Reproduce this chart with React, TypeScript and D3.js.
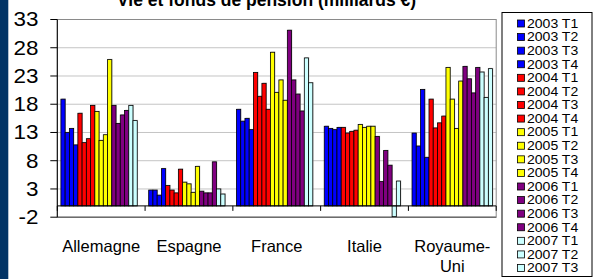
import * as d3 from "d3";

const countries = ["Allemagne", "Espagne", "France", "Italie", "Royaume-Uni"];
const quarters = [
  "2003 T1", "2003 T2", "2003 T3", "2003 T4",
  "2004 T1", "2004 T2", "2004 T3", "2004 T4",
  "2005 T1", "2005 T2", "2005 T3", "2005 T4",
  "2006 T1", "2006 T2", "2006 T3", "2006 T4",
  "2007 T1", "2007 T2", "2007 T3"
];
const quarterColors = [
  "#0000ff", "#0000ff", "#0000ff", "#0000ff",
  "#ff0000", "#ff0000", "#ff0000", "#ff0000",
  "#ffff00", "#ffff00", "#ffff00", "#ffff00",
  "#800080", "#800080", "#800080", "#800080",
  "#ccffff", "#ccffff", "#ccffff"
];

// milliards €, une valeur par trimestre (null = pas de donnée)
const allemagne = [18.9, 13.0, 13.7, 10.8, 16.4, 11.2, 11.9, 17.8, 16.7, 11.6, 12.6, 25.9, 17.8, 14.6, 16.1, 16.9, 17.8, 15.1, null];
const espagne = [2.8, 2.8, 1.9, 6.6, 3.6, 2.8, 2.3, 6.5, 4.2, 3.9, 2.4, 7.0, 2.6, 2.3, 2.3, 7.8, 3.0, 2.1, null];
const france = [17.1, 15.0, 15.5, 13.5, 23.6, 19.4, 21.7, 17.1, 27.2, 20.1, 22.3, 18.7, 31.1, 22.3, 19.8, 16.8, 26.2, 21.8, null];
const italie = [14.1, 13.7, 13.5, 13.9, 13.9, 12.9, 13.2, 13.4, 14.4, 13.9, 14.1, 14.1, 12.3, 4.3, 9.8, 7.2, -1.9, 4.4, null];
const royaumeUni = [12.9, 10.6, 20.6, 8.6, 18.9, 13.8, 14.7, 15.9, 24.5, 18.9, 13.7, 22.1, 24.7, 22.5, 20.0, 24.5, 23.7, 19.2, 24.3];

const yTicks = [-2, 3, 8, 13, 18, 23, 28, 33];
const title = "Vie et fonds de pension (milliards €)";

const W = 607;
const H = 279;

export default function App() {
  const series = [allemagne, espagne, france, italie, royaumeUni];

  const x0 = d3.scaleBand<string>().domain(countries).range([57.3, 496.2]).padding(0);
  const x1 = d3
    .scaleBand<string>()
    .domain(quarters)
    .range([0, x0.bandwidth()])
    .paddingInner(0)
    .paddingOuter(0.85);
  const y = d3.scaleLinear().domain([-2, 33]).range([217.2, 19.5]);

  const left = x0.range()[0];
  const right = x0.range()[1];
  const zeroY = y(0);

  const legendRow = d3.scalePoint<string>().domain(quarters).range([23.5, 268]);

  return (
    <svg
      width={W}
      height={H}
      style={{ position: "absolute", left: 0, top: 0, background: "#ffffff" }}
      fontFamily="Arial, 'Liberation Sans', sans-serif"
    >
      <rect x={0} y={0} width={W} height={H} fill="#ffffff" />
      <rect x={0} y={0} width={8.3} height={H} fill="#023466" />

      <text x={117} y={5.5} fontSize={17.5} fontWeight="bold" fill="#000">
        {title}
      </text>

      {/* grid + plot border */}
      {yTicks.map((t) => (
        <line
          key={"g" + t}
          x1={left}
          x2={right}
          y1={y(t)}
          y2={y(t)}
          stroke={t === 33 ? "#8a8a8a" : "#c4c4c4"}
          strokeWidth={1}
        />
      ))}
      <rect
        x={left}
        y={y(33)}
        width={right - left}
        height={y(-2) - y(33)}
        fill="none"
        stroke="#8a8a8a"
        strokeWidth={1}
      />
      <line x1={left} x2={right} y1={y(-2)} y2={y(-2)} stroke="#555" strokeWidth={1} />

      {/* bars */}
      {countries.map((c, ci) => (
        <g key={c} transform={`translate(${x0(c)},0)`}>
          {quarters.map((q, qi) => {
            const v = series[ci][qi];
            if (v === null) return null;
            const bx = x1(q) ?? 0;
            const top = Math.min(y(v), zeroY);
            const h = Math.abs(y(v) - zeroY);
            return (
              <g key={q}>
                <rect
                  x={bx + 0.8}
                  y={top - 0.8}
                  width={x1.bandwidth()}
                  height={h}
                  fill="#b0b0b0"
                  opacity={0.6}
                />
                <rect
                  x={bx}
                  y={top}
                  width={x1.bandwidth()}
                  height={h}
                  fill={quarterColors[qi]}
                  stroke="#000"
                  strokeWidth={0.8}
                />
              </g>
            );
          })}
        </g>
      ))}

      {/* x axis at zero */}
      <line x1={left} x2={right} y1={zeroY} y2={zeroY} stroke="#000" strokeWidth={1} />
      {countries.map((c) => (
        <line
          key={"t" + c}
          x1={(x0(c) ?? 0) + x0.bandwidth()}
          x2={(x0(c) ?? 0) + x0.bandwidth()}
          y1={zeroY}
          y2={zeroY + 5}
          stroke="#000"
          strokeWidth={1}
        />
      ))}
      <line x1={left} x2={left} y1={zeroY} y2={zeroY + 5} stroke="#000" />

      {/* y axis */}
      <line x1={left} x2={left} y1={y(33)} y2={y(-2)} stroke="#000" strokeWidth={1} />
      {yTicks.map((t) => (
        <g key={"yt" + t}>
          <line x1={left - 7} x2={left} y1={y(t)} y2={y(t)} stroke="#000" strokeWidth={1} />
          <text
            transform={`translate(38.5,${y(t)}) scale(1.15,1)`}
            textAnchor="end"
            dominantBaseline="central"
            fontSize={19.5}
            fill="#000"
          >
            {t}
          </text>
        </g>
      ))}

      {/* category labels */}
      {countries.map((c) => {
        const cx = (x0(c) ?? 0) + x0.bandwidth() / 2;
        const parts = c === "Royaume-Uni" ? ["Royaume-", "Uni"] : [c];
        return (
          <text key={"l" + c} x={cx} y={251.5} textAnchor="middle" fontSize={16.5} fill="#000">
            {parts.map((p, i) => (
              <tspan key={p} x={cx} dy={i === 0 ? 0 : 20}>
                {p}
              </tspan>
            ))}
          </text>
        );
      })}

      {/* legend */}
      <rect x={502} y={12.5} width={90} height={264} fill="#fff" stroke="#000" strokeWidth={1} />
      {quarters.map((q, qi) => {
        const ly = legendRow(q) ?? 0;
        return (
          <g key={"lg" + q}>
            <rect
              x={517.5}
              y={ly - 3.5}
              width={7}
              height={7}
              fill={quarterColors[qi]}
              stroke="#000"
              strokeWidth={0.8}
            />
            <text
              transform={`translate(527,${ly}) scale(1.08,1)`}
              dominantBaseline="central"
              fontSize={13}
              fill="#000"
            >
              {q}
            </text>
          </g>
        );
      })}
    </svg>
  );
}
